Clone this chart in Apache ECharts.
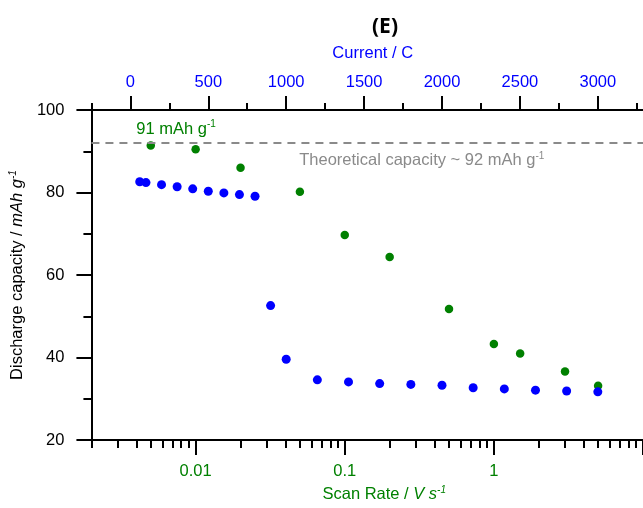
<!DOCTYPE html>
<html><head><meta charset="utf-8">
<script src="https://cdn.jsdelivr.net/npm/echarts@6/dist/echarts.min.js"></script>
<style>html,body{margin:0;padding:0;background:#fff}#c{width:643px;height:508px}</style>
</head><body><div id="c"></div>
<script>
// ---- data ----
const scanRates = [0.005, 0.01, 0.02, 0.05, 0.1, 0.2, 0.5, 1, 1.5, 3, 5];
const scanCapacity = [91.4, 90.5, 86.0, 80.2, 69.7, 64.4, 51.8, 43.3, 41.0, 36.6, 33.2];
const currents = [60, 100, 200, 300, 400, 500, 600, 700, 800, 900, 1000, 1200, 1400, 1600, 1800, 2000, 2200, 2400, 2600, 2800, 3000];
const currentCapacity = [82.6, 82.4, 81.9, 81.4, 80.9, 80.3, 79.9, 79.5, 79.1, 52.6, 39.6, 34.6, 34.1, 33.7, 33.5, 33.3, 32.7, 32.4, 32.1, 31.9, 31.7];
const theoreticalCapacity = 92;
const scanRateTicks = [0.01, 0.1, 1, 10];
const scanRateLabels = [0.01, 0.1, 1];
const scanRateMinorTicks = [0.002, 0.003, 0.004, 0.005, 0.006, 0.007, 0.008, 0.009,
  0.02, 0.03, 0.04, 0.05, 0.06, 0.07, 0.08, 0.09,
  0.2, 0.3, 0.4, 0.5, 0.6, 0.7, 0.8, 0.9,
  2, 3, 4, 5, 6, 7, 8, 9];
const currentTicks = [0, 500, 1000, 1500, 2000, 2500, 3000];
const currentMinorTicks = [-250, 250, 750, 1250, 1750, 2250, 2750, 3250];
const capacityTicks = [20, 40, 60, 80, 100];

const FONT = 'Liberation Sans';
const BLUE = '#0000ff', GREEN = '#008000', GREY = '#8a8a8a';
const axisLineStyle = { color: '#000', width: 2 };
const FS = 16.5;

const chart = echarts.init(document.getElementById('c'), null, { renderer: 'canvas' });
chart.setOption({
  animation: false,
  backgroundColor: '#fff',
  title: {
    text: '(E)', left: 367, top: 12,
    textStyle: { fontFamily: 'Noto Sans', fontWeight: 'bold', fontSize: 21, color: '#000' }
  },
  grid: { left: 90, right: -6, top: 110, bottom: 62 },
  xAxis: [
    {
      type: 'log', logBase: 10, position: 'bottom', min: 0.002, max: 10,
      axisLine: { show: true, onZero: false, lineStyle: axisLineStyle },
      axisTick: { show: true, length: 15, lineStyle: axisLineStyle, customValues: scanRateTicks },
      axisLabel: { customValues: scanRateLabels, color: GREEN, fontFamily: FONT, fontSize: FS, margin: 23,
        formatter: v => String(+(+v).toPrecision(3)) },
      splitLine: { show: false },
      name: '{a|Scan Rate / }{i|V s}{s|-1}', nameLocation: 'middle', nameGap: 44,
      nameTextStyle: {
        padding: [0, 0, 0, 34],
        rich: {
          a: { color: GREEN, fontFamily: FONT, fontSize: FS, lineHeight: 18, verticalAlign: 'bottom' },
          i: { color: GREEN, fontFamily: FONT, fontSize: FS, fontStyle: 'italic', lineHeight: 18, verticalAlign: 'bottom' },
          s: { color: GREEN, fontFamily: FONT, fontSize: 10, fontStyle: 'italic', lineHeight: 18, verticalAlign: 'top', padding: [0, 0, 6, 0] }
        }
      }
    },
    {
      type: 'log', logBase: 10, position: 'bottom', min: 0.002, max: 10,
      axisLine: { show: false, onZero: false },
      axisTick: { show: true, length: 8, lineStyle: axisLineStyle, customValues: scanRateMinorTicks },
      axisLabel: { show: false },
      splitLine: { show: false }
    },
    {
      type: 'value', position: 'top', min: -250, max: 3290,
      axisLine: { show: true, onZero: false, lineStyle: axisLineStyle },
      axisTick: { show: true, length: 14, lineStyle: axisLineStyle, customValues: currentTicks },
      axisLabel: { customValues: currentTicks, color: BLUE, fontFamily: FONT, fontSize: FS, margin: 19,
        formatter: v => String(v) },
      splitLine: { show: false },
      name: 'Current / C', nameLocation: 'middle', nameGap: 48,
      nameTextStyle: { color: BLUE, fontFamily: FONT, fontSize: FS, padding: [0, 0, 0, 11] }
    },
    {
      type: 'value', position: 'top', min: -250, max: 3290,
      axisLine: { show: false, onZero: false },
      axisTick: { show: true, length: 7, lineStyle: axisLineStyle, customValues: currentMinorTicks },
      axisLabel: { show: false },
      splitLine: { show: false }
    }
  ],
  yAxis: {
    type: 'value', min: 20, max: 100, interval: 20,
    axisLine: { show: true, onZero: false, lineStyle: axisLineStyle },
    axisTick: { show: true, length: 15, lineStyle: axisLineStyle },
    minorTick: { show: true, splitNumber: 2, length: 8, lineStyle: axisLineStyle },
    axisLabel: { color: '#000', fontFamily: FONT, fontSize: FS, margin: 27 },
    splitLine: { show: false }, minorSplitLine: { show: false },
    name: '{a|Discharge capacity / }{i|mAh g}{s|-1}', nameLocation: 'middle', nameGap: 56,
    nameTextStyle: {
      rich: {
        a: { color: '#000', fontFamily: FONT, fontSize: FS, lineHeight: 18, verticalAlign: 'bottom' },
        i: { color: '#000', fontFamily: FONT, fontSize: FS, fontStyle: 'italic', lineHeight: 18, verticalAlign: 'bottom' },
        s: { color: '#000', fontFamily: FONT, fontSize: 10, fontStyle: 'italic', lineHeight: 18, verticalAlign: 'top', padding: [0, 0, 6, 0] }
      }
    }
  },
  series: [
    {
      name: 'scan', type: 'scatter', xAxisIndex: 0, yAxisIndex: 0,
      data: scanRates.map((x, i) => [x, scanCapacity[i]]),
      symbolSize: 8.5, itemStyle: { color: GREEN, opacity: 1 },
      markLine: {
        silent: true, symbol: 'none', animation: false,
        lineStyle: { color: GREY, width: 2, type: [8, 6] },
        label: { show: false },
        data: [{ yAxis: theoreticalCapacity }]
      },
      markPoint: {
        silent: true, symbol: 'circle', symbolSize: 0, animation: false,
        data: [
          { coord: [0.004, 95.5], label: { show: true, position: 'right', distance: 0,
            formatter: '{t|91 mAh g}{s|-1}',
            rich: { t: { color: GREEN, fontFamily: FONT, fontSize: FS, lineHeight: 18, verticalAlign: 'bottom' },
                    s: { color: GREEN, fontFamily: FONT, fontSize: 10, lineHeight: 18, verticalAlign: 'top', padding: [0, 0, 6, 0] } } } },
          { coord: [0.0495, 87.9], label: { show: true, position: 'right', distance: 0,
            formatter: '{t|Theoretical capacity ~ 92 mAh g}{s|-1}',
            rich: { t: { color: GREY, fontFamily: FONT, fontSize: FS, lineHeight: 18, verticalAlign: 'bottom' },
                    s: { color: GREY, fontFamily: FONT, fontSize: 10, lineHeight: 18, verticalAlign: 'top', padding: [0, 0, 6, 0] } } } }
        ]
      }
    },
    {
      name: 'current', type: 'scatter', xAxisIndex: 2, yAxisIndex: 0,
      data: currents.map((x, i) => [x, currentCapacity[i]]),
      symbolSize: 9, itemStyle: { color: BLUE, opacity: 1 }
    }
  ]
});
</script></body></html>
